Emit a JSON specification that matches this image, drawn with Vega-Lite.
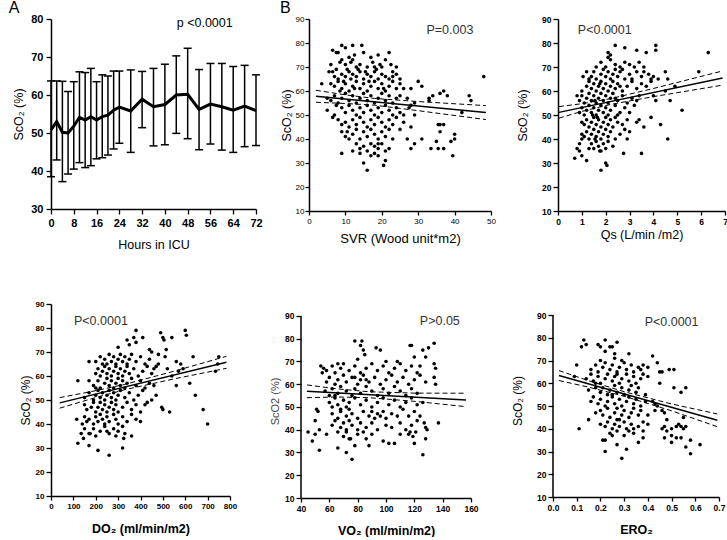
{
"$schema":"https://vega.github.io/schema/vega-lite/v6.json",
"padding":{"left":4,"top":0,"right":0,"bottom":0},
"background":"white",
"config":{"font":"Liberation Sans","view":{"stroke":null},
"axis":{"grid":false,"domainColor":"black","tickColor":"black","labelColor":"black","titleColor":"black","labelOverlap":false,"labelFlush":false,"titleFontWeight":"normal","domainWidth":1.5,"tickWidth":1.3},
"title":{"fontWeight":"normal","color":"black"}},
"datasets":{
"ts":[{"t":0,"m":50.8,"lo":38.5,"hi":63.7},{"t":2,"m":53.0,"lo":42.9,"hi":63.7},{"t":4,"m":50.2,"lo":37.2,"hi":63.6},{"t":6,"m":50.0,"lo":39.2,"hi":60.9},{"t":8,"m":51.8,"lo":40.5,"hi":63.5},{"t":10,"m":54.1,"lo":42.2,"hi":66.1},{"t":12,"m":53.4,"lo":40.9,"hi":65.9},{"t":14,"m":54.3,"lo":41.4,"hi":67.0},{"t":16,"m":53.4,"lo":43.2,"hi":63.5},{"t":18,"m":54.3,"lo":43.5,"hi":65.3},{"t":20,"m":54.7,"lo":44.2,"hi":65.0},{"t":22,"m":56.0,"lo":45.8,"hi":66.3},{"t":24,"m":56.8,"lo":47.3,"hi":66.3},{"t":28,"m":55.8,"lo":44.9,"hi":66.6},{"t":32,"m":58.9,"lo":51.4,"hi":66.2},{"t":36,"m":56.9,"lo":46.6,"hi":67.0},{"t":40,"m":57.5,"lo":46.9,"hi":68.1},{"t":44,"m":60.0,"lo":49.9,"hi":70.3},{"t":48,"m":60.2,"lo":48.5,"hi":72.3},{"t":52,"m":56.2,"lo":45.6,"hi":66.7},{"t":56,"m":57.6,"lo":47.1,"hi":68.3},{"t":60,"m":56.9,"lo":45.5,"hi":68.3},{"t":64,"m":56.0,"lo":44.9,"hi":67.5},{"t":68,"m":57.1,"lo":46.4,"hi":67.8},{"t":72,"m":55.9,"lo":46.7,"hi":65.3}],
"svr":[{"x":6.5,"y":77},{"x":7.5,"y":76},{"x":8,"y":76},{"x":9,"y":79},{"x":10,"y":78},{"x":12,"y":79},{"x":12.5,"y":75},{"x":14.5,"y":79},{"x":15,"y":76},{"x":17,"y":74},{"x":19,"y":75},{"x":22,"y":76},{"x":11,"y":74},
{"x":6,"y":71},{"x":8.5,"y":72},{"x":10,"y":71},{"x":11.5,"y":72},{"x":13,"y":70},{"x":14,"y":71},{"x":16,"y":70},{"x":17.5,"y":72},{"x":18,"y":70},{"x":19.5,"y":71},{"x":20,"y":70},{"x":21,"y":73},{"x":22.5,"y":71},{"x":24,"y":70},{"x":9,"y":73},{"x":12,"y":73},
{"x":5.5,"y":68},{"x":6.5,"y":68},{"x":7,"y":66},{"x":8,"y":65},{"x":9,"y":67},{"x":10,"y":66},{"x":11,"y":68},{"x":12,"y":67},{"x":13,"y":66},{"x":14,"y":68},{"x":15,"y":65},{"x":16,"y":67},{"x":17,"y":66},{"x":18,"y":68},{"x":19,"y":65},{"x":20,"y":67},{"x":21,"y":66},{"x":22,"y":65},{"x":23,"y":68},{"x":23,"y":66},{"x":24,"y":67},{"x":25,"y":65},{"x":7.5,"y":69},{"x":10.5,"y":69},{"x":13.5,"y":69},{"x":18.5,"y":69},{"x":11.5,"y":65},{"x":15.5,"y":68},
{"x":6,"y":63},{"x":7,"y":62},{"x":8,"y":64},{"x":9,"y":61},{"x":10,"y":63},{"x":11,"y":60},{"x":12,"y":62},{"x":13,"y":64},{"x":14,"y":61},{"x":15,"y":63},{"x":16,"y":60},{"x":17,"y":62},{"x":18,"y":64},{"x":19,"y":61},{"x":20,"y":63},{"x":21,"y":60},{"x":22,"y":62},{"x":23,"y":64},{"x":24,"y":61},{"x":25,"y":63},{"x":26,"y":61},{"x":28,"y":61},{"x":30,"y":64},{"x":31,"y":62},{"x":8.5,"y":60},{"x":12.5,"y":61},{"x":16.5,"y":64},{"x":20.5,"y":61},{"x":9.5,"y":64},
{"x":5,"y":57},{"x":6,"y":56},{"x":7,"y":58},{"x":8,"y":55},{"x":9,"y":57},{"x":10,"y":59},{"x":11,"y":56},{"x":12,"y":58},{"x":13,"y":55},{"x":14,"y":57},{"x":15,"y":59},{"x":16,"y":56},{"x":17,"y":58},{"x":18,"y":55},{"x":19,"y":57},{"x":20,"y":59},{"x":21,"y":56},{"x":22,"y":58},{"x":23,"y":55},{"x":24,"y":57},{"x":25,"y":58},{"x":27,"y":57},{"x":29,"y":55},{"x":33,"y":56},{"x":34,"y":58},{"x":36,"y":59},{"x":37,"y":60},{"x":38,"y":58},{"x":44,"y":58},{"x":44.5,"y":56},{"x":33,"y":57},{"x":7.5,"y":54},
{"x":5,"y":52},{"x":7,"y":50},{"x":9,"y":53},{"x":10,"y":51},{"x":11,"y":54},{"x":12,"y":52},{"x":13,"y":50},{"x":14,"y":53},{"x":15,"y":51},{"x":16,"y":54},{"x":17,"y":52},{"x":18,"y":50},{"x":19,"y":53},{"x":20,"y":51},{"x":21,"y":54},{"x":22,"y":52},{"x":23,"y":50},{"x":24,"y":53},{"x":25,"y":51},{"x":27.5,"y":53},{"x":28,"y":54},{"x":29,"y":50},{"x":26,"y":50},{"x":42,"y":51},{"x":6.5,"y":49},
{"x":8,"y":48},{"x":9,"y":46},{"x":10,"y":47},{"x":11,"y":45},{"x":12,"y":48},{"x":13,"y":46},{"x":14,"y":49},{"x":15,"y":47},{"x":16,"y":45},{"x":17,"y":48},{"x":18,"y":46},{"x":19,"y":49},{"x":20,"y":47},{"x":21,"y":45},{"x":22,"y":48},{"x":23,"y":46},{"x":24,"y":49},{"x":26,"y":47},{"x":28,"y":45},{"x":36,"y":46},{"x":35.5,"y":46},{"x":37,"y":46},{"x":36,"y":43},{"x":10.5,"y":43},{"x":25,"y":44},
{"x":9,"y":43},{"x":10,"y":41},{"x":12,"y":42},{"x":13,"y":44},{"x":14,"y":40},{"x":15,"y":43},{"x":16,"y":41},{"x":17,"y":44},{"x":18,"y":42},{"x":19,"y":40},{"x":20,"y":43},{"x":21,"y":41},{"x":22,"y":44},{"x":23,"y":40},{"x":11,"y":40},{"x":27,"y":40},{"x":31,"y":40},{"x":35,"y":39},{"x":39,"y":39},{"x":40,"y":40},{"x":17,"y":38},{"x":19,"y":38},
{"x":12,"y":35},{"x":13,"y":38},{"x":14,"y":36},{"x":15,"y":37},{"x":16,"y":35},{"x":18,"y":37},{"x":19,"y":36},{"x":20,"y":38},{"x":21,"y":35},{"x":22,"y":36},{"x":29,"y":38},{"x":28,"y":36},{"x":33.5,"y":36},{"x":35.5,"y":36},{"x":37,"y":36},{"x":17,"y":33},{"x":18,"y":34},{"x":9,"y":34},
{"x":15,"y":30},{"x":16,"y":27},{"x":20.5,"y":29},{"x":21,"y":31},{"x":39.5,"y":33},{"x":14,"y":34},{"x":19,"y":33},{"x":3.5,"y":63},{"x":48,"y":66},{"x":40,"y":42}],
"svrf":[{"k":"fit","x":1.9,"y":57.8},{"k":"fit","x":48.6,"y":51.0},
{"k":"hi","x":1.9,"y":60.3},{"k":"hi","x":10,"y":58.4},{"k":"hi","x":18,"y":56.9},{"k":"hi","x":30,"y":55.6},{"k":"hi","x":48.6,"y":53.9},
{"k":"lo","x":1.9,"y":55.3},{"k":"lo","x":10,"y":54.8},{"k":"lo","x":18,"y":54.1},{"k":"lo","x":30,"y":51.8},{"k":"lo","x":48.6,"y":48.1}],
"qs":[{"x":0.7,"y":32},{"x":0.8,"y":36},{"x":0.9,"y":35},{"x":1,"y":33},{"x":1,"y":40},{"x":1,"y":42},{"x":0.9,"y":38},{"x":1.05,"y":66},{"x":1.2,"y":31},{"x":1.3,"y":36},{"x":1.8,"y":27},{"x":2,"y":30},{"x":2.05,"y":29},{"x":2.75,"y":34},{"x":3.5,"y":34},{"x":4.6,"y":40},{"x":4.3,"y":46},{"x":3.9,"y":49},{"x":3.6,"y":45},{"x":5.2,"y":52},{"x":4.7,"y":56},{"x":4.9,"y":62},{"x":5.9,"y":68},{"x":6.3,"y":76},{"x":4.1,"y":79},{"x":4.1,"y":77},{"x":2.4,"y":79},{"x":2.8,"y":78},{"x":3.3,"y":77},{"x":3.7,"y":76},{"x":2.1,"y":76},{"x":2.2,"y":75},{"x":4.5,"y":68},{"x":4.6,"y":65},{"x":4.2,"y":65},{"x":4.0,"y":58},{"x":4.1,"y":56},{"x":4.5,"y":60},{"x":3.0,"y":43},{"x":2.9,"y":40},{"x":3.3,"y":47},{"x":3.4,"y":48},
{"x":1.8,"y":72},{"x":2.0,"y":70},{"x":2.2,"y":73},{"x":2.4,"y":71},{"x":2.6,"y":70},{"x":2.8,"y":72},{"x":3.0,"y":71},{"x":3.2,"y":70},{"x":3.4,"y":72},{"x":2.1,"y":74},{"x":1.6,"y":70},{"x":3.6,"y":70},
{"x":1.2,"y":68},{"x":1.4,"y":66},{"x":1.5,"y":68},{"x":1.6,"y":65},{"x":1.8,"y":67},{"x":1.9,"y":69},{"x":2.0,"y":66},{"x":2.1,"y":68},{"x":2.2,"y":65},{"x":2.3,"y":67},{"x":2.4,"y":69},{"x":2.5,"y":66},{"x":2.6,"y":68},{"x":2.8,"y":65},{"x":3.0,"y":67},{"x":3.1,"y":65},{"x":3.3,"y":68},{"x":3.5,"y":66},{"x":3.6,"y":68},{"x":3.8,"y":67},{"x":3.9,"y":65},{"x":4.0,"y":66},{"x":2.7,"y":69},{"x":1.3,"y":65},
{"x":1.0,"y":60},{"x":1.2,"y":62},{"x":1.3,"y":64},{"x":1.4,"y":61},{"x":1.5,"y":63},{"x":1.6,"y":60},{"x":1.7,"y":62},{"x":1.8,"y":64},{"x":1.9,"y":61},{"x":2.0,"y":63},{"x":2.1,"y":60},{"x":2.2,"y":62},{"x":2.3,"y":64},{"x":2.4,"y":61},{"x":2.5,"y":63},{"x":2.7,"y":60},{"x":2.9,"y":62},{"x":3.1,"y":64},{"x":3.3,"y":61},{"x":3.5,"y":63},{"x":3.7,"y":62},{"x":3.9,"y":64},{"x":2.6,"y":62},{"x":1.75,"y":63},
{"x":0.8,"y":58},{"x":0.9,"y":56},{"x":1.0,"y":58},{"x":1.1,"y":55},{"x":1.2,"y":57},{"x":1.3,"y":59},{"x":1.4,"y":56},{"x":1.5,"y":58},{"x":1.6,"y":55},{"x":1.7,"y":57},{"x":1.8,"y":59},{"x":1.9,"y":56},{"x":2.0,"y":58},{"x":2.1,"y":55},{"x":2.2,"y":57},{"x":2.3,"y":59},{"x":2.5,"y":56},{"x":2.7,"y":58},{"x":2.9,"y":55},{"x":3.1,"y":57},{"x":3.3,"y":56},{"x":3.4,"y":58},{"x":2.4,"y":57},{"x":1.55,"y":56},
{"x":0.9,"y":51},{"x":1.0,"y":53},{"x":1.1,"y":50},{"x":1.2,"y":52},{"x":1.3,"y":54},{"x":1.4,"y":51},{"x":1.5,"y":53},{"x":1.6,"y":50},{"x":1.7,"y":52},{"x":1.8,"y":54},{"x":1.9,"y":51},{"x":2.0,"y":53},{"x":2.1,"y":50},{"x":2.2,"y":52},{"x":2.4,"y":54},{"x":2.6,"y":51},{"x":2.8,"y":53},{"x":3.0,"y":51},{"x":3.2,"y":54},{"x":2.5,"y":50},{"x":1.45,"y":50},
{"x":1.0,"y":47},{"x":1.1,"y":46},{"x":1.2,"y":48},{"x":1.3,"y":45},{"x":1.4,"y":47},{"x":1.5,"y":49},{"x":1.6,"y":46},{"x":1.7,"y":48},{"x":1.8,"y":45},{"x":1.9,"y":47},{"x":2.0,"y":49},{"x":2.1,"y":46},{"x":2.2,"y":48},{"x":2.3,"y":45},{"x":2.5,"y":47},{"x":2.7,"y":46},{"x":2.9,"y":48},{"x":1.65,"y":49},{"x":2.4,"y":49},
{"x":1.1,"y":41},{"x":1.2,"y":43},{"x":1.3,"y":40},{"x":1.4,"y":42},{"x":1.5,"y":44},{"x":1.6,"y":41},{"x":1.7,"y":43},{"x":1.8,"y":40},{"x":1.9,"y":42},{"x":2.0,"y":44},{"x":2.1,"y":41},{"x":2.2,"y":43},{"x":2.4,"y":40},{"x":2.6,"y":42},{"x":2.8,"y":44},{"x":1.55,"y":40},
{"x":1.4,"y":38},{"x":1.5,"y":36},{"x":1.6,"y":39},{"x":1.7,"y":37},{"x":1.8,"y":35},{"x":1.9,"y":38},{"x":2.0,"y":36},{"x":2.1,"y":39},{"x":2.3,"y":37},{"x":1.75,"y":35}],
"qsf":[{"k":"fit","x":0.04,"y":51.1},{"k":"fit","x":6.9,"y":65.4},
{"k":"hi","x":0.04,"y":53.5},{"k":"hi","x":1.0,"y":54.7},{"k":"hi","x":2.2,"y":56.8},{"k":"hi","x":4.0,"y":61.05},{"k":"hi","x":6.9,"y":68.35},
{"k":"lo","x":0.04,"y":48.7},{"k":"lo","x":1.0,"y":51.5},{"k":"lo","x":2.2,"y":54.4},{"k":"lo","x":4.0,"y":57.65},{"k":"lo","x":6.9,"y":62.45}],
"do2":[{"x":115,"y":42},{"x":120,"y":32},{"x":120,"y":58},{"x":135,"y":36},{"x":145,"y":34},{"x":160,"y":41},{"x":170,"y":66},{"x":170,"y":31},{"x":175,"y":36},{"x":210,"y":29},{"x":260,"y":27},{"x":320,"y":30},{"x":325,"y":34},{"x":360,"y":35},{"x":600,"y":79},{"x":605,"y":77},{"x":490,"y":78},{"x":500,"y":76},{"x":505,"y":75},{"x":540,"y":76},{"x":530,"y":45},{"x":500,"y":46},{"x":495,"y":47},{"x":620,"y":57},{"x":635,"y":68},{"x":645,"y":52},{"x":680,"y":46},{"x":700,"y":40},{"x":735,"y":62},{"x":745,"y":65},{"x":750,"y":68},{"x":560,"y":66},{"x":570,"y":62},{"x":560,"y":56},{"x":580,"y":65},{"x":450,"y":70},{"x":440,"y":71},{"x":480,"y":69},{"x":515,"y":71},{"x":510,"y":68},{"x":410,"y":76},{"x":380,"y":79},{"x":370,"y":76},{"x":340,"y":75},{"x":350,"y":73},{"x":380,"y":74},{"x":300,"y":72},{"x":420,"y":48},{"x":430,"y":49},{"x":450,"y":50},{"x":470,"y":52},{"x":460,"y":56},{"x":540,"y":60},{"x":520,"y":63},{"x":590,"y":63},{"x":470,"y":64},{"x":480,"y":65},
{"x":200,"y":66},{"x":220,"y":68},{"x":240,"y":67},{"x":250,"y":65},{"x":260,"y":69},{"x":270,"y":66},{"x":280,"y":68},{"x":290,"y":65},{"x":300,"y":67},{"x":310,"y":69},{"x":320,"y":66},{"x":330,"y":68},{"x":340,"y":65},{"x":350,"y":67},{"x":360,"y":69},{"x":380,"y":66},{"x":400,"y":68},{"x":420,"y":65},{"x":440,"y":67},{"x":230,"y":65},
{"x":200,"y":61},{"x":210,"y":63},{"x":220,"y":60},{"x":230,"y":62},{"x":240,"y":64},{"x":250,"y":61},{"x":260,"y":63},{"x":270,"y":60},{"x":280,"y":62},{"x":290,"y":64},{"x":300,"y":61},{"x":310,"y":63},{"x":320,"y":60},{"x":330,"y":62},{"x":340,"y":64},{"x":350,"y":61},{"x":370,"y":63},{"x":390,"y":60},{"x":410,"y":62},{"x":430,"y":64},{"x":450,"y":61},{"x":460,"y":63},
{"x":170,"y":58},{"x":190,"y":56},{"x":210,"y":58},{"x":220,"y":55},{"x":240,"y":57},{"x":250,"y":59},{"x":260,"y":56},{"x":270,"y":58},{"x":280,"y":55},{"x":290,"y":57},{"x":300,"y":59},{"x":310,"y":56},{"x":320,"y":58},{"x":330,"y":55},{"x":340,"y":57},{"x":360,"y":59},{"x":380,"y":56},{"x":400,"y":58},{"x":420,"y":55},{"x":440,"y":57},{"x":200,"y":55},
{"x":150,"y":51},{"x":170,"y":53},{"x":190,"y":50},{"x":200,"y":52},{"x":210,"y":54},{"x":220,"y":51},{"x":230,"y":53},{"x":240,"y":50},{"x":250,"y":52},{"x":260,"y":54},{"x":270,"y":51},{"x":280,"y":53},{"x":290,"y":50},{"x":300,"y":52},{"x":310,"y":54},{"x":330,"y":51},{"x":350,"y":53},{"x":370,"y":50},{"x":390,"y":52},{"x":410,"y":54},
{"x":150,"y":48},{"x":160,"y":46},{"x":180,"y":47},{"x":190,"y":49},{"x":200,"y":45},{"x":210,"y":47},{"x":220,"y":49},{"x":230,"y":46},{"x":240,"y":48},{"x":250,"y":45},{"x":260,"y":47},{"x":270,"y":49},{"x":280,"y":46},{"x":290,"y":48},{"x":300,"y":45},{"x":320,"y":47},{"x":340,"y":49},{"x":360,"y":46},{"x":380,"y":48},{"x":400,"y":45},
{"x":140,"y":40},{"x":150,"y":43},{"x":170,"y":42},{"x":190,"y":40},{"x":200,"y":43},{"x":210,"y":41},{"x":220,"y":44},{"x":230,"y":42},{"x":240,"y":40},{"x":250,"y":43},{"x":260,"y":41},{"x":280,"y":44},{"x":290,"y":42},{"x":300,"y":40},{"x":320,"y":43},{"x":340,"y":41},{"x":360,"y":44},{"x":380,"y":42},{"x":400,"y":41},
{"x":150,"y":38},{"x":170,"y":36},{"x":190,"y":38},{"x":200,"y":35},{"x":220,"y":37},{"x":240,"y":39},{"x":260,"y":36},{"x":280,"y":38},{"x":290,"y":35},{"x":300,"y":37},{"x":320,"y":39},{"x":330,"y":36},{"x":250,"y":37}],
"do2f":[{"k":"fit","x":39,"y":48.8},{"k":"fit","x":784,"y":65.7},
{"k":"hi","x":39,"y":51.0},{"k":"hi","x":180,"y":53.5},{"k":"hi","x":330,"y":56.5},{"k":"hi","x":550,"y":62.0},{"k":"hi","x":784,"y":68.2},
{"k":"lo","x":39,"y":46.6},{"k":"lo","x":180,"y":50.5},{"k":"lo","x":330,"y":54.3},{"k":"lo","x":550,"y":58.8},{"k":"lo","x":784,"y":63.2}],
"vo2":[{"x":45,"y":39},{"x":48,"y":35},{"x":50,"y":38},{"x":50,"y":44},{"x":51,"y":49},{"x":52,"y":48},{"x":53,"y":40},{"x":53,"y":31},{"x":58,"y":38},{"x":66,"y":32},{"x":72,"y":30},{"x":75,"y":36},{"x":76,"y":27},{"x":78,"y":33},{"x":86,"y":36},{"x":88,"y":33},{"x":98,"y":35},{"x":102,"y":34},{"x":106,"y":34},{"x":126,"y":29},{"x":128,"y":36},{"x":128,"y":41},{"x":129,"y":40},{"x":127,"y":43},{"x":137,"y":43},{"x":135,"y":60},{"x":134,"y":63},{"x":134,"y":69},{"x":134,"y":78},{"x":130,"y":76},{"x":126,"y":75},{"x":128,"y":72},{"x":120,"y":72},{"x":118,"y":77},{"x":117,"y":77},{"x":78,"y":79},{"x":83,"y":79},{"x":82,"y":77},{"x":85,"y":73},{"x":84,"y":75},{"x":93,"y":76},{"x":96,"y":75},{"x":80,"y":71},{"x":54,"y":68},{"x":55,"y":65},{"x":56,"y":67},{"x":135,"y":67},{"x":120,"y":34},{"x":119,"y":37},{"x":116,"y":38},{"x":117,"y":39},{"x":121,"y":39},
{"x":58,"y":66},{"x":62,"y":68},{"x":64,"y":65},{"x":68,"y":67},{"x":70,"y":69},{"x":74,"y":66},{"x":78,"y":68},{"x":82,"y":65},{"x":86,"y":67},{"x":90,"y":69},{"x":94,"y":66},{"x":98,"y":68},{"x":102,"y":65},{"x":106,"y":67},{"x":110,"y":69},{"x":114,"y":66},{"x":118,"y":68},{"x":122,"y":65},{"x":66,"y":69},{"x":100,"y":70},{"x":108,"y":70},{"x":124,"y":68},
{"x":58,"y":61},{"x":60,"y":63},{"x":64,"y":60},{"x":66,"y":62},{"x":70,"y":64},{"x":72,"y":61},{"x":76,"y":63},{"x":80,"y":60},{"x":82,"y":62},{"x":84,"y":64},{"x":88,"y":61},{"x":92,"y":63},{"x":96,"y":60},{"x":100,"y":62},{"x":104,"y":64},{"x":108,"y":61},{"x":112,"y":63},{"x":116,"y":60},{"x":120,"y":62},{"x":124,"y":64},{"x":128,"y":61},{"x":86,"y":62},{"x":78,"y":63},
{"x":57,"y":57},{"x":60,"y":55},{"x":62,"y":58},{"x":66,"y":56},{"x":68,"y":59},{"x":72,"y":57},{"x":76,"y":55},{"x":78,"y":58},{"x":82,"y":56},{"x":86,"y":59},{"x":90,"y":57},{"x":94,"y":55},{"x":98,"y":58},{"x":102,"y":56},{"x":106,"y":59},{"x":110,"y":57},{"x":114,"y":55},{"x":118,"y":58},{"x":122,"y":56},{"x":64,"y":55},
{"x":60,"y":52},{"x":62,"y":50},{"x":64,"y":54},{"x":66,"y":51},{"x":70,"y":53},{"x":72,"y":50},{"x":74,"y":52},{"x":78,"y":54},{"x":82,"y":51},{"x":86,"y":53},{"x":90,"y":50},{"x":94,"y":52},{"x":98,"y":54},{"x":102,"y":51},{"x":106,"y":53},{"x":110,"y":50},{"x":114,"y":52},{"x":118,"y":54},{"x":122,"y":51},{"x":126,"y":52},{"x":68,"y":49},
{"x":62,"y":47},{"x":66,"y":45},{"x":68,"y":48},{"x":72,"y":46},{"x":74,"y":49},{"x":76,"y":47},{"x":80,"y":45},{"x":84,"y":48},{"x":88,"y":46},{"x":90,"y":48},{"x":92,"y":45},{"x":94,"y":47},{"x":96,"y":46},{"x":98,"y":48},{"x":100,"y":45},{"x":104,"y":47},{"x":108,"y":46},{"x":112,"y":49},{"x":116,"y":46},{"x":120,"y":48},{"x":124,"y":46},
{"x":62,"y":42},{"x":64,"y":44},{"x":68,"y":41},{"x":70,"y":43},{"x":72,"y":40},{"x":74,"y":44},{"x":76,"y":42},{"x":80,"y":40},{"x":82,"y":43},{"x":86,"y":41},{"x":90,"y":43},{"x":94,"y":40},{"x":100,"y":42},{"x":104,"y":41},{"x":110,"y":43},{"x":114,"y":40},{"x":118,"y":42},{"x":122,"y":44},
{"x":66,"y":39},{"x":70,"y":37},{"x":72,"y":39},{"x":74,"y":36},{"x":80,"y":38},{"x":84,"y":39},{"x":90,"y":38},{"x":110,"y":38}],
"vo2f":[{"k":"fit","x":44.2,"y":56.9},{"k":"fit","x":156.5,"y":53.1},
{"k":"hi","x":44.2,"y":59.7},{"k":"hi","x":65,"y":58.0},{"k":"hi","x":88,"y":56.7},{"k":"hi","x":120,"y":56.1},{"k":"hi","x":156.5,"y":56.05},
{"k":"lo","x":44.2,"y":54.1},{"k":"lo","x":65,"y":54.4},{"k":"lo","x":88,"y":54.1},{"k":"lo","x":120,"y":52.5},{"k":"lo","x":156.5,"y":50.15}],
"ero2":[{"x":0.11,"y":40},{"x":0.10,"y":68},{"x":0.09,"y":63},{"x":0.12,"y":76},{"x":0.13,"y":79},{"x":0.14,"y":77},{"x":0.15,"y":44},{"x":0.16,"y":52},{"x":0.22,"y":35},{"x":0.21,"y":35},{"x":0.22,"y":30},{"x":0.25,"y":37},{"x":0.27,"y":33},{"x":0.29,"y":27},{"x":0.31,"y":31},{"x":0.36,"y":34},{"x":0.38,"y":36},{"x":0.38,"y":39},{"x":0.42,"y":72},{"x":0.44,"y":69},{"x":0.45,"y":65},{"x":0.46,"y":65},{"x":0.49,"y":66},{"x":0.51,"y":66},{"x":0.51,"y":58},{"x":0.54,"y":56},{"x":0.56,"y":58},{"x":0.45,"y":60},{"x":0.46,"y":48},{"x":0.47,"y":47},{"x":0.48,"y":44},{"x":0.46,"y":40},{"x":0.47,"y":41},{"x":0.48,"y":39},{"x":0.47,"y":36},{"x":0.50,"y":34},{"x":0.50,"y":37},{"x":0.52,"y":36},{"x":0.50,"y":40},{"x":0.52,"y":41},{"x":0.53,"y":42},{"x":0.54,"y":41},{"x":0.55,"y":40},{"x":0.56,"y":41},{"x":0.54,"y":36},{"x":0.56,"y":32},{"x":0.58,"y":29},{"x":0.58,"y":35},{"x":0.62,"y":33},{"x":0.42,"y":52},{"x":0.43,"y":51},{"x":0.44,"y":50},{"x":0.55,"y":45},{"x":0.43,"y":48},{"x":0.22,"y":79},{"x":0.24,"y":76},{"x":0.25,"y":76},{"x":0.27,"y":78},{"x":0.19,"y":77},{"x":0.20,"y":76},{"x":0.22,"y":74},{"x":0.26,"y":73},{"x":0.32,"y":73},{"x":0.40,"y":67},{"x":0.38,"y":68},{"x":0.40,"y":63},
{"x":0.16,"y":66},{"x":0.18,"y":68},{"x":0.19,"y":65},{"x":0.21,"y":67},{"x":0.22,"y":69},{"x":0.24,"y":66},{"x":0.25,"y":68},{"x":0.27,"y":65},{"x":0.28,"y":67},{"x":0.30,"y":69},{"x":0.31,"y":66},{"x":0.33,"y":68},{"x":0.34,"y":65},{"x":0.36,"y":67},{"x":0.37,"y":66},{"x":0.20,"y":70},{"x":0.26,"y":71},{"x":0.29,"y":70},
{"x":0.14,"y":62},{"x":0.16,"y":64},{"x":0.17,"y":61},{"x":0.19,"y":63},{"x":0.20,"y":60},{"x":0.22,"y":62},{"x":0.23,"y":64},{"x":0.25,"y":61},{"x":0.26,"y":63},{"x":0.28,"y":60},{"x":0.29,"y":62},{"x":0.31,"y":64},{"x":0.32,"y":61},{"x":0.34,"y":63},{"x":0.35,"y":60},{"x":0.37,"y":62},{"x":0.38,"y":64},{"x":0.18,"y":60},{"x":0.27,"y":64},
{"x":0.15,"y":57},{"x":0.18,"y":58},{"x":0.20,"y":56},{"x":0.21,"y":58},{"x":0.23,"y":55},{"x":0.24,"y":57},{"x":0.26,"y":59},{"x":0.27,"y":56},{"x":0.29,"y":58},{"x":0.30,"y":55},{"x":0.32,"y":57},{"x":0.33,"y":59},{"x":0.35,"y":56},{"x":0.36,"y":58},{"x":0.39,"y":55},{"x":0.25,"y":55},
{"x":0.19,"y":51},{"x":0.20,"y":53},{"x":0.22,"y":50},{"x":0.23,"y":52},{"x":0.25,"y":54},{"x":0.26,"y":51},{"x":0.28,"y":53},{"x":0.29,"y":50},{"x":0.31,"y":52},{"x":0.32,"y":54},{"x":0.34,"y":51},{"x":0.35,"y":53},{"x":0.37,"y":50},{"x":0.39,"y":52},{"x":0.17,"y":54},
{"x":0.18,"y":47},{"x":0.20,"y":48},{"x":0.21,"y":46},{"x":0.23,"y":49},{"x":0.24,"y":45},{"x":0.26,"y":47},{"x":0.27,"y":49},{"x":0.29,"y":46},{"x":0.30,"y":48},{"x":0.32,"y":45},{"x":0.33,"y":47},{"x":0.34,"y":49},{"x":0.36,"y":46},{"x":0.37,"y":48},{"x":0.40,"y":46},{"x":0.28,"y":44},
{"x":0.20,"y":42},{"x":0.22,"y":41},{"x":0.23,"y":43},{"x":0.25,"y":40},{"x":0.26,"y":42},{"x":0.28,"y":41},{"x":0.30,"y":43},{"x":0.31,"y":40},{"x":0.33,"y":42},{"x":0.34,"y":40},{"x":0.36,"y":41},{"x":0.38,"y":43},{"x":0.40,"y":42},{"x":0.27,"y":44},
{"x":0.24,"y":38},{"x":0.27,"y":39},{"x":0.30,"y":37},{"x":0.32,"y":39},{"x":0.34,"y":38}],
"ero2f":[{"k":"fit","x":0.025,"y":63.4},{"k":"fit","x":0.693,"y":43.7},
{"k":"hi","x":0.025,"y":65.6},{"k":"hi","x":0.15,"y":61.1},{"k":"hi","x":0.3,"y":56.3},{"k":"hi","x":0.5,"y":50.9},{"k":"hi","x":0.693,"y":46.5},
{"k":"lo","x":0.025,"y":61.2},{"k":"lo","x":0.15,"y":58.3},{"k":"lo","x":0.3,"y":54.3},{"k":"lo","x":0.5,"y":47.9},{"k":"lo","x":0.693,"y":40.9}]
},
"vconcat":[
{"hconcat":[
 {"width":205,"height":190,
  "title":{"text":"A","anchor":"start","frame":"bounds","fontSize":16,"offset":-3,"dx":-4},
  "encoding":{"x":{"field":"t","type":"quantitative","scale":{"domain":[0,72],"nice":false},"axis":{"values":[0,8,16,24,32,40,48,56,64,72],"title":"Hours in ICU","titleFontSize":12.5,"titlePadding":10,"labelFontSize":11,"labelFontWeight":"bold","tickSize":5,"labelPadding":3}}},
  "layer":[
   {"data":{"name":"ts"},"mark":{"type":"rule","color":"black","strokeWidth":1.5},"encoding":{"y":{"field":"lo","type":"quantitative","title":"ScO₂ (%)","scale":{"domain":[30,80],"nice":false},"axis":{"values":[30,40,50,60,70,80],"titleFontSize":12.5,"titlePadding":5,"labelFontSize":11,"labelFontWeight":"bold","tickSize":5,"labelPadding":3}},"y2":{"field":"hi"}}},
   {"data":{"name":"ts"},"mark":{"type":"tick","orient":"horizontal","size":8,"thickness":1.5,"color":"black","opacity":1},"encoding":{"y":{"field":"hi","type":"quantitative","title":"ScO₂ (%)","scale":{"domain":[30,80],"nice":false},"axis":{"values":[30,40,50,60,70,80],"titleFontSize":12.5,"titlePadding":5,"labelFontSize":11,"labelFontWeight":"bold","tickSize":5,"labelPadding":3}}}},
   {"data":{"name":"ts"},"mark":{"type":"tick","orient":"horizontal","size":8,"thickness":1.5,"color":"black","opacity":1},"encoding":{"y":{"field":"lo","type":"quantitative","title":"ScO₂ (%)","scale":{"domain":[30,80],"nice":false},"axis":{"values":[30,40,50,60,70,80],"titleFontSize":12.5,"titlePadding":5,"labelFontSize":11,"labelFontWeight":"bold","tickSize":5,"labelPadding":3}}}},
   {"data":{"name":"ts"},"mark":{"type":"line","color":"black","strokeWidth":3},"encoding":{"y":{"field":"m","type":"quantitative","title":"ScO₂ (%)","scale":{"domain":[30,80],"nice":false},"axis":{"values":[30,40,50,60,70,80],"titleFontSize":12.5,"titlePadding":5,"labelFontSize":11,"labelFontWeight":"bold","tickSize":5,"labelPadding":3}}}},
   {"data":{"values":[{"t":54,"m":79,"label":"p <0.0001"}]},"mark":{"type":"text","fontSize":12.5,"color":"black"},"encoding":{"y":{"field":"m","type":"quantitative","title":"ScO₂ (%)","scale":{"domain":[30,80],"nice":false},"axis":{"values":[30,40,50,60,70,80],"titleFontSize":12.5,"titlePadding":5,"labelFontSize":11,"labelFontWeight":"bold","tickSize":5,"labelPadding":3}},"text":{"field":"label"}}}
  ]},
 {"hconcat":[
  {"width":182,"height":192,
   "title":{"text":"B","anchor":"start","frame":"bounds","fontSize":16,"offset":-1},
   "encoding":{
    "x":{"field":"x","type":"quantitative","scale":{"domain":[0,50],"nice":false},"axis":{"values":[0,10,20,30,40,50],"title":"SVR (Wood unit*m2)","titleFontSize":13,"titlePadding":7,"labelFontSize":8,"tickSize":4,"labelPadding":2}},
    "y":{"field":"y","type":"quantitative","scale":{"domain":[10,90],"nice":false},"axis":{"values":[10,20,30,40,50,60,70,80,90],"title":"ScO₂ (%)","titleFontSize":12.5,"titlePadding":2,"labelFontSize":8,"tickSize":4,"labelPadding":1}}},
   "layer":[
    {"data":{"name":"svr"},"mark":{"type":"circle","size":13,"color":"black","opacity":1}},
    {"data":{"name":"svrf"},"transform":[{"filter":"datum.k=='fit'"}],"mark":{"type":"line","color":"black","strokeWidth":1.5}},
    {"data":{"name":"svrf"},"transform":[{"filter":"datum.k!='fit'"}],"mark":{"type":"line","color":"black","strokeWidth":1,"strokeDash":[5,3]},"encoding":{"detail":{"field":"k"}}},
    {"data":{"values":[{"x":38.7,"y":85.4,"label":"P=0.003"}]},"mark":{"type":"text","fontSize":12.5,"color":"#333"},"encoding":{"text":{"field":"label"}}}
   ]},
  {"width":167,"height":192,
   "encoding":{
    "x":{"field":"x","type":"quantitative","scale":{"domain":[0,7],"nice":false},"axis":{"values":[0,1,2,3,4,5,6,7],"title":"Qs (L/min /m2)","titleFontSize":12.5,"titlePadding":3,"labelFontSize":8.5,"labelFontWeight":"bold","tickSize":4,"labelPadding":2}},
    "y":{"field":"y","type":"quantitative","scale":{"domain":[10,90],"nice":false},"axis":{"values":[10,20,30,40,50,60,70,80,90],"title":"ScO₂ (%)","titleFontSize":12.5,"titlePadding":12,"labelFontSize":8.5,"labelFontWeight":"bold","tickSize":5,"labelPadding":2}}},
   "layer":[
    {"data":{"name":"qs"},"mark":{"type":"circle","size":13,"color":"black","opacity":1}},
    {"data":{"name":"qsf"},"transform":[{"filter":"datum.k=='fit'"}],"mark":{"type":"line","color":"black","strokeWidth":1.5}},
    {"data":{"name":"qsf"},"transform":[{"filter":"datum.k!='fit'"}],"mark":{"type":"line","color":"black","strokeWidth":1,"strokeDash":[5,3]},"encoding":{"detail":{"field":"k"}}},
    {"data":{"values":[{"x":1.96,"y":85.4,"label":"P<0.0001"}]},"mark":{"type":"text","fontSize":12.5,"color":"#333"},"encoding":{"text":{"field":"label"}}}
   ]}
 ],"spacing":20}
],"spacing":17},
{"hconcat":[
 {"width":179,"height":192,
  "title":{"text":" ","orient":"left","fontSize":12,"offset":2},
  "encoding":{
   "x":{"field":"x","type":"quantitative","scale":{"domain":[0,800],"nice":false},"axis":{"values":[0,100,200,300,400,500,600,700,800],"title":"DO₂  (ml/min/m2)","titleFontSize":12.5,"titleFontWeight":"bold","titlePadding":12,"labelFontSize":8,"labelFontWeight":"bold","tickSize":4,"labelPadding":2}},
   "y":{"field":"y","type":"quantitative","scale":{"domain":[10,90],"nice":false},"axis":{"values":[10,20,30,40,50,60,70,80,90],"title":"ScO₂ (%)","titleFontSize":12,"titlePadding":3,"labelFontSize":8,"labelFontWeight":"bold","tickSize":5,"labelPadding":2}}},
  "layer":[
   {"data":{"name":"do2"},"mark":{"type":"circle","size":13,"color":"black","opacity":1}},
   {"data":{"name":"do2f"},"transform":[{"filter":"datum.k=='fit'"}],"mark":{"type":"line","color":"black","strokeWidth":1.5}},
   {"data":{"name":"do2f"},"transform":[{"filter":"datum.k!='fit'"}],"mark":{"type":"line","color":"black","strokeWidth":1,"strokeDash":[5,3]},"encoding":{"detail":{"field":"k"}}},
   {"data":{"values":[{"x":223,"y":82.9,"label":"P<0.0001"}]},"mark":{"type":"text","fontSize":12.5,"color":"#333"},"encoding":{"text":{"field":"label"}}}
  ]},
 {"width":170,"height":194,
  "encoding":{
   "x":{"field":"x","type":"quantitative","scale":{"domain":[40,160],"nice":false},"axis":{"values":[40,60,80,100,120,140,160],"title":"VO₂  (ml/min/m2)","titleFontSize":12.5,"titleFontWeight":"bold","titlePadding":12,"labelFontSize":8.5,"labelFontWeight":"bold","tickSize":4,"labelPadding":2}},
   "y":{"field":"y","type":"quantitative","scale":{"domain":[10,95.27],"nice":false},"axis":{"values":[10,20,30,40,50,60,70,80,90],"domain":false,"title":"ScO2 (%)","titleFontSize":11,"titleColor":"#444","titlePadding":4,"labelFontSize":8.5,"labelFontWeight":"bold","tickSize":5,"labelPadding":2}}},
  "layer":[
   {"data":{"values":[{"x":40,"y":10,"y2":90}]},"mark":{"type":"rule","color":"black","strokeWidth":1.5},"encoding":{"y2":{"field":"y2"}}},
   {"data":{"name":"vo2"},"mark":{"type":"circle","size":13,"color":"black","opacity":1}},
   {"data":{"name":"vo2f"},"transform":[{"filter":"datum.k=='fit'"}],"mark":{"type":"line","color":"black","strokeWidth":1.5}},
   {"data":{"name":"vo2f"},"transform":[{"filter":"datum.k!='fit'"}],"mark":{"type":"line","color":"black","strokeWidth":1,"strokeDash":[5,3]},"encoding":{"detail":{"field":"k"}}},
   {"data":{"values":[{"x":138,"y":87.8,"label":"P>0.05"}]},"mark":{"type":"text","fontSize":12.5,"color":"#333"},"encoding":{"text":{"field":"label"}}}
  ]},
 {"width":166,"height":193,
  "encoding":{
   "x":{"field":"x","type":"quantitative","scale":{"domain":[0,0.7],"nice":false},"axis":{"values":[0,0.1,0.2,0.3,0.4,0.5,0.6,0.7],"format":".1f","title":"ERO₂","titleFontSize":12.5,"titleFontWeight":"bold","titlePadding":12,"labelFontSize":8.5,"labelFontWeight":"bold","tickSize":4,"labelPadding":2}},
   "y":{"field":"y","type":"quantitative","scale":{"domain":[10,94.84],"nice":false},"axis":{"values":[10,20,30,40,50,60,70,80,90],"domain":false,"title":"ScO₂ (%)","titleFontSize":12,"titlePadding":12,"labelFontSize":8.5,"labelFontWeight":"bold","tickSize":5,"labelPadding":2}}},
  "layer":[
   {"data":{"values":[{"x":0,"y":10,"y2":90}]},"mark":{"type":"rule","color":"black","strokeWidth":1.5},"encoding":{"y2":{"field":"y2"}}},
   {"data":{"name":"ero2"},"mark":{"type":"circle","size":13,"color":"black","opacity":1}},
   {"data":{"name":"ero2f"},"transform":[{"filter":"datum.k=='fit'"}],"mark":{"type":"line","color":"black","strokeWidth":1.5}},
   {"data":{"name":"ero2f"},"transform":[{"filter":"datum.k!='fit'"}],"mark":{"type":"line","color":"black","strokeWidth":1,"strokeDash":[5,3]},"encoding":{"detail":{"field":"k"}}},
   {"data":{"values":[{"x":0.5,"y":86.9,"label":"P<0.0001"}]},"mark":{"type":"text","fontSize":12.5,"color":"#333"},"encoding":{"text":{"field":"label"}}}
  ]}
],"spacing":32}
],
"spacing":49
}
